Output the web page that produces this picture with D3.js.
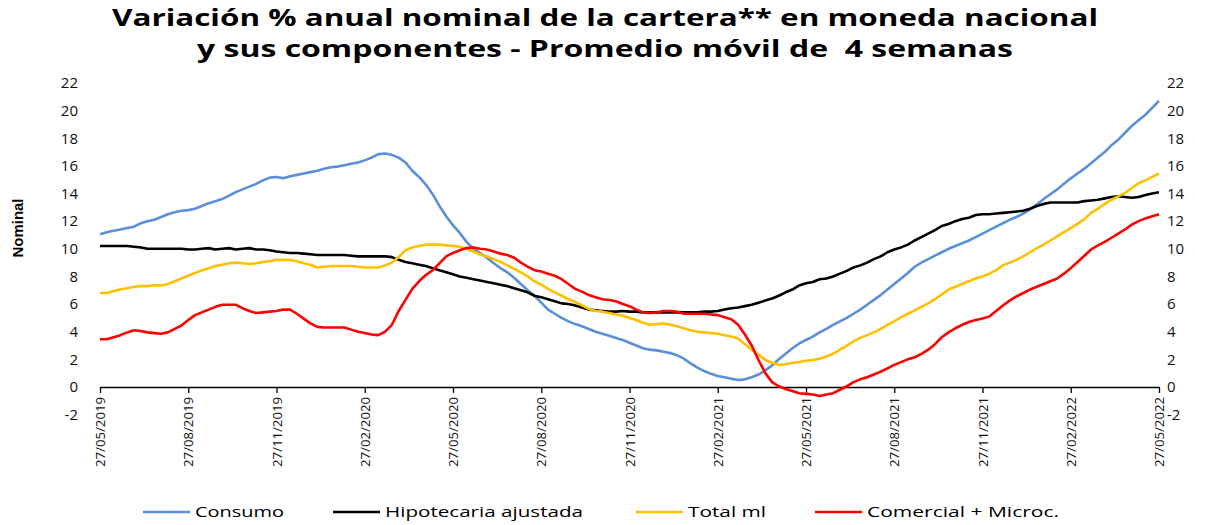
<!DOCTYPE html>
<html>
<head>
<meta charset="utf-8">
<script src="https://cdn.jsdelivr.net/npm/d3@7"></script>
<style>
  body { margin: 0; background: #fff; }
  svg text { font-family: "Open Sans", "DejaVu Sans", sans-serif; }
</style>
</head>
<body>
<div id="chart"></div>
<script>
// weekly data, 27/05/2019 .. 27/05/2022 (157 weeks)
let consumo = [
  11.05, 11.2, 11.3, 11.4, 11.5, 11.6, 11.85, 12.0, 12.1, 12.3, 12.5, 12.65, 12.75,
  12.8, 12.9, 13.1, 13.3, 13.45, 13.6, 13.85, 14.1, 14.3, 14.5, 14.7, 14.95, 15.15,
  15.2, 15.1, 15.25, 15.35, 15.45, 15.55, 15.65, 15.8, 15.9, 15.95, 16.05, 16.15, 16.25,
  16.4, 16.6, 16.85, 16.9, 16.8, 16.6, 16.25, 15.65, 15.2, 14.65, 13.95, 13.1, 12.35,
  11.7, 11.15, 10.5, 10.0, 9.7, 9.35, 8.95, 8.6, 8.3, 7.9, 7.45, 7.0, 6.6,
  6.1, 5.6, 5.3, 5.0, 4.75, 4.55, 4.4, 4.2, 4.0, 3.85, 3.7, 3.55, 3.4,
  3.2, 3.0, 2.8, 2.7, 2.65, 2.55, 2.45, 2.3, 2.05, 1.7, 1.4, 1.15, 0.95,
  0.8, 0.7, 0.6, 0.5, 0.55, 0.7, 0.9, 1.2, 1.55, 2.0, 2.4, 2.8, 3.15,
  3.4, 3.65, 3.95, 4.2, 4.5, 4.75, 5.0, 5.3, 5.6, 5.95, 6.3, 6.65, 7.05,
  7.45, 7.85, 8.25, 8.7, 9.0, 9.25, 9.5, 9.75, 10.0, 10.2, 10.4, 10.6, 10.85,
  11.1, 11.35, 11.6, 11.85, 12.1, 12.3, 12.55, 12.85, 13.2, 13.6, 13.95, 14.3, 14.7,
  15.1, 15.45, 15.8, 16.2, 16.6, 17.0, 17.5, 17.9, 18.4, 18.9, 19.3, 19.7, 20.2,
  20.7
]

let hipotecaria = [
  10.2, 10.2, 10.2, 10.2, 10.2, 10.15, 10.1, 10.0, 10.0, 10.0, 10.0, 10.0, 10.0,
  9.95, 9.95, 10.0, 10.05, 9.95, 10.0, 10.05, 9.95, 10.0, 10.05, 9.95, 9.95, 9.9,
  9.8, 9.75, 9.7, 9.7, 9.65, 9.6, 9.55, 9.55, 9.55, 9.55, 9.55, 9.5, 9.45,
  9.45, 9.45, 9.45, 9.45, 9.4, 9.2, 9.05, 8.95, 8.85, 8.75, 8.6, 8.45, 8.3,
  8.15, 8.0, 7.9, 7.8, 7.7, 7.6, 7.5, 7.4, 7.3, 7.15, 7.0, 6.85, 6.6,
  6.5, 6.35, 6.2, 6.05, 6.0, 5.9, 5.75, 5.6, 5.55, 5.5, 5.45, 5.45, 5.5,
  5.45, 5.45, 5.4, 5.4, 5.4, 5.4, 5.4, 5.4, 5.4, 5.4, 5.4, 5.45, 5.45,
  5.5, 5.6, 5.7, 5.75, 5.85, 5.95, 6.1, 6.25, 6.4, 6.6, 6.85, 7.05, 7.35,
  7.5, 7.6, 7.8, 7.85, 8.0, 8.2, 8.4, 8.65, 8.8, 9.0, 9.25, 9.45, 9.75,
  9.95, 10.1, 10.3, 10.6, 10.85, 11.1, 11.35, 11.65, 11.8, 12.0, 12.15, 12.25, 12.45,
  12.5, 12.5, 12.55, 12.6, 12.65, 12.7, 12.75, 12.9, 13.1, 13.25, 13.35, 13.35, 13.35,
  13.35, 13.35, 13.45, 13.5, 13.55, 13.65, 13.75, 13.8, 13.75, 13.7, 13.75, 13.9, 14.0,
  14.1
]

let totalMl = [
  6.8, 6.8, 6.95, 7.05, 7.15, 7.25, 7.3, 7.3, 7.35, 7.35, 7.45, 7.65, 7.85,
  8.05, 8.25, 8.45, 8.6, 8.75, 8.85, 8.95, 9.0, 8.95, 8.9, 8.95, 9.05, 9.1,
  9.2, 9.2, 9.2, 9.1, 8.95, 8.85, 8.65, 8.7, 8.75, 8.75, 8.75, 8.75, 8.7,
  8.65, 8.65, 8.65, 8.8, 9.0, 9.4, 9.9, 10.1, 10.2, 10.3, 10.3, 10.3, 10.25,
  10.2, 10.15, 10.0, 9.8, 9.6, 9.45, 9.25, 9.05, 8.8, 8.55, 8.3, 8.0, 7.65,
  7.4, 7.1, 6.85, 6.6, 6.35, 6.15, 5.9, 5.65, 5.5, 5.45, 5.35, 5.25, 5.15,
  5.0, 4.85, 4.65, 4.5, 4.55, 4.6, 4.5, 4.4, 4.25, 4.1, 4.0, 3.95, 3.9,
  3.85, 3.75, 3.65, 3.5, 3.1, 2.7, 2.35, 1.95, 1.75, 1.6, 1.65, 1.75, 1.8,
  1.9, 1.95, 2.05, 2.2, 2.4, 2.7, 3.0, 3.3, 3.55, 3.75, 3.95, 4.2, 4.5,
  4.75, 5.05, 5.3, 5.55, 5.8, 6.05, 6.35, 6.7, 7.05, 7.25, 7.45, 7.65, 7.85,
  8.0, 8.2, 8.45, 8.8, 9.0, 9.2, 9.45, 9.75, 10.05, 10.3, 10.6, 10.9, 11.2,
  11.5, 11.8, 12.15, 12.6, 12.9, 13.25, 13.55, 13.8, 14.05, 14.4, 14.75, 14.95, 15.2,
  15.45
]

let comercial = [
  3.45, 3.45, 3.6, 3.75, 3.95, 4.1, 4.05, 3.95, 3.9, 3.85, 3.95, 4.2, 4.45,
  4.85, 5.2, 5.4, 5.6, 5.8, 5.95, 5.95, 5.95, 5.7, 5.5, 5.35, 5.4, 5.45,
  5.5, 5.6, 5.6, 5.3, 4.95, 4.6, 4.35, 4.3, 4.3, 4.3, 4.3, 4.15, 4.0,
  3.9, 3.8, 3.75, 4.0, 4.5, 5.5, 6.3, 7.1, 7.65, 8.1, 8.45, 8.95, 9.45,
  9.7, 9.9, 10.05, 10.1, 10.0, 9.95, 9.8, 9.65, 9.55, 9.35, 9.0, 8.7, 8.45,
  8.35, 8.2, 8.05, 7.8, 7.45, 7.1, 6.9, 6.65, 6.5, 6.35, 6.3, 6.2, 6.0,
  5.85, 5.6, 5.4, 5.35, 5.4, 5.5, 5.5, 5.45, 5.3, 5.3, 5.3, 5.3, 5.25,
  5.2, 5.05, 4.9, 4.5, 3.8, 3.0, 1.95, 1.0, 0.35, 0.05, -0.15, -0.3, -0.45,
  -0.5, -0.55, -0.65, -0.55, -0.45, -0.2, 0.05, 0.35, 0.55, 0.7, 0.9, 1.1, 1.35,
  1.6, 1.8, 2.0, 2.15, 2.4, 2.7, 3.1, 3.6, 3.95, 4.25, 4.5, 4.7, 4.85,
  4.95, 5.1, 5.5, 5.9, 6.25, 6.55, 6.8, 7.05, 7.25, 7.45, 7.65, 7.85, 8.2,
  8.6, 9.05, 9.5, 9.95, 10.25, 10.5, 10.8, 11.1, 11.4, 11.75, 12.0, 12.2, 12.35,
  12.5
]

let dateLabels = ['27/05/2019', '27/08/2019', '27/11/2019', '27/02/2020', '27/05/2020', '27/08/2020',
  '27/11/2020', '27/02/2021', '27/05/2021', '27/08/2021', '27/11/2021', '27/02/2022', '27/05/2022']
let labelStep = 13

let yTicks = [-2, 0, 2, 4, 6, 8, 10, 12, 14, 16, 18, 20, 22]

let seriesNames = ['Consumo', 'Hipotecaria ajustada', 'Total ml', 'Comercial + Microc.']
let seriesColors = ['#5b8fd7', '#000000', '#ffc000', '#ff0000']
let seriesData = [consumo, hipotecaria, totalMl, comercial]

let width = 1211, height = 525
let margin = {left: 100, right: 52, top: 83, bottom: 110}

let svg = d3.select('#chart').append('svg')
  .attr('width', width)
  .attr('height', height)

let x = d3.scaleLinear()
  .domain([0, consumo.length - 1])
  .range([margin.left, width - margin.right])

let y = d3.scaleLinear()
  .domain([-2, 22])
  .range([414.6, margin.top])

// title
svg.append('text')
  .attr('x', 605).attr('y', 26)
  .attr('text-anchor', 'middle')
  .attr('font-size', '23px').attr('font-weight', 'bold')
  .attr('textLength', 986).attr('lengthAdjust', 'spacingAndGlyphs')
  .text('Variación % anual nominal de la cartera** en moneda nacional')
svg.append('text')
  .attr('x', 605).attr('y', 57)
  .attr('text-anchor', 'middle')
  .attr('font-size', '23px').attr('font-weight', 'bold')
  .attr('textLength', 816).attr('lengthAdjust', 'spacingAndGlyphs')
  .style('white-space', 'pre')
  .text('y sus componentes - Promedio móvil de  4 semanas')

// y label
svg.append('text')
  .attr('transform', 'translate(23,228) rotate(-90)')
  .attr('text-anchor', 'middle')
  .style('font-size', '15px').style('font-weight', 'bold')
  .style('font-family', '"Liberation Sans Narrow", "Liberation Sans", sans-serif')
  .attr('textLength', 59).attr('lengthAdjust', 'spacingAndGlyphs')
  .text('Nominal')

// y tick labels both sides
let yLeft = d3.axisLeft(y).tickValues(yTicks).tickSize(0).tickPadding(0).tickFormat(d => String(d))
let yRight = d3.axisRight(y).tickValues(yTicks).tickSize(0).tickPadding(0).tickFormat(d => String(d))

let gl = svg.append('g').attr('transform', 'translate(78,0)').call(yLeft)
let gr = svg.append('g').attr('transform', 'translate(1167,0)').call(yRight)
;[gl, gr].forEach(function(g) {
  g.select('.domain').remove()
  g.selectAll('text').attr('font-size', '15px').attr('fill', '#111')
})

// x axis at zero
let xAxis = d3.axisBottom(x)
  .tickValues(dateLabels.map((d, i) => i * labelStep))
  .tickFormat((d, i) => dateLabels[i])
  .tickSize(6)
  .tickSizeOuter(0)

let gx = svg.append('g')
  .attr('transform', 'translate(0,' + y(0) + ')')
  .call(xAxis)
gx.select('.domain').attr('stroke', '#000').attr('stroke-width', 1.5)
gx.selectAll('.tick line').attr('stroke', '#000').attr('stroke-width', 1.3)
gx.selectAll('.tick text')
  .attr('font-size', '13px')
  .attr('fill', '#111')
  .attr('text-anchor', 'end')
  .attr('transform', 'rotate(-90)')
  .attr('x', -10)
  .attr('y', 0)
  .attr('dy', '0.35em')
  .attr('textLength', 70).attr('lengthAdjust', 'spacingAndGlyphs')

// lines
let line = d3.line()
  .x((d, i) => x(i))
  .y(d => y(d))

seriesData.forEach(function(data, k) {
  svg.append('path')
    .attr('fill', 'none')
    .attr('stroke', seriesColors[k])
    .attr('stroke-width', 2.6)
    .attr('stroke-linejoin', 'round')
    .attr('d', line(data))
})

// legend
let legendX = [143, 333, 636, 815]
let legendW = [89, 198, 78, 192]
let legend = svg.append('g')
seriesNames.forEach(function(name, k) {
  legend.append('line')
    .attr('x1', legendX[k]).attr('x2', legendX[k] + 47)
    .attr('y1', 512).attr('y2', 512)
    .attr('stroke', seriesColors[k]).attr('stroke-width', 2.6)
  legend.append('text')
    .attr('x', legendX[k] + 52).attr('y', 517)
    .attr('font-size', '15px')
    .attr('textLength', legendW[k]).attr('lengthAdjust', 'spacingAndGlyphs')
    .text(name)
})
</script>
</body>
</html>
